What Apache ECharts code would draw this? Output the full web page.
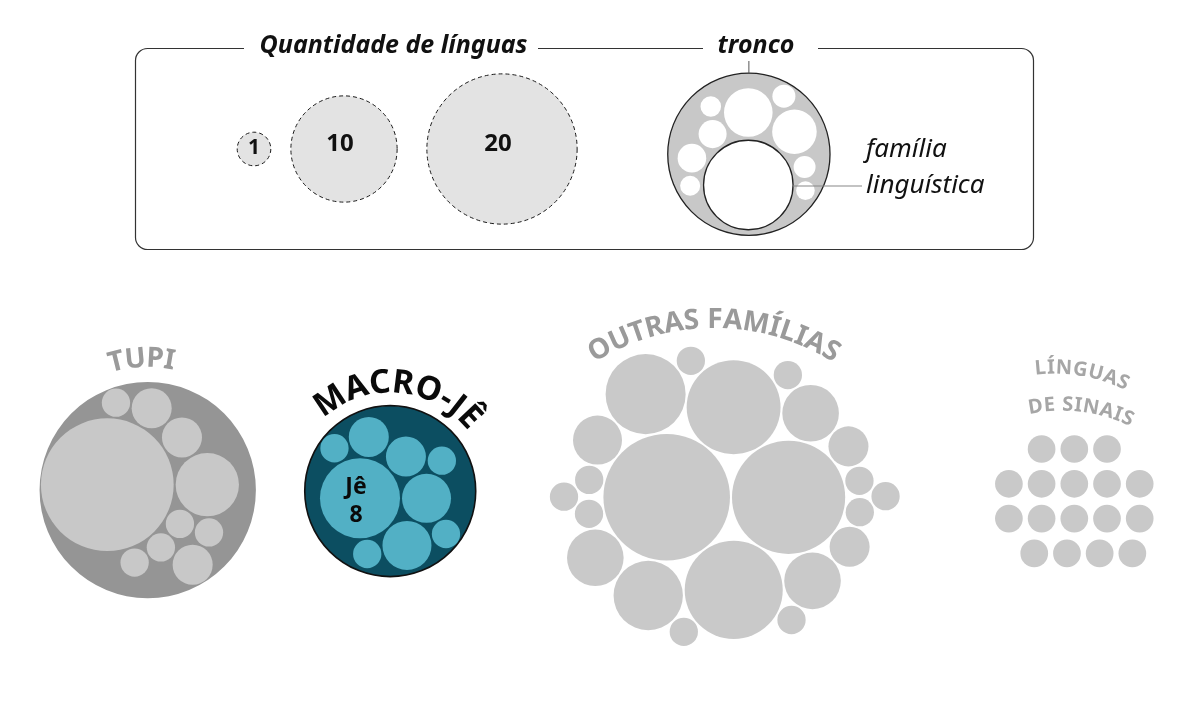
<!DOCTYPE html>
<html><head><meta charset="utf-8">
<script src="https://cdn.jsdelivr.net/npm/echarts@6/dist/echarts.min.js"></script>
<style>html,body{margin:0;padding:0;background:#fff}#c{width:1201px;height:726px}</style>
</head><body><div id="c"></div>
<script>
// ================= DATA =================
const legendValues = [1, 10, 20];
const legendLabels = ['1', '10', '20'];
const legendTitle = 'Quantidade de línguas';
const trunkLegendTitle = 'tronco';
const familyLegendLabel = ['família', 'linguística'];
// illustrative trunk drawn in the legend (relative family sizes)
const exampleTrunk = [10, 2.95, 2.48, 0.98, 1.02, 0.6, 0.53, 0.5, 0.66, 0.43];
// languages per family, in packing order
const tupiFamilies = [22, 5, 1, 2, 1, 2, 1, 1, 1, 2];
const macroJeFamilies = [8, 3, 3, 2, 2, 1, 1, 1, 1];
const macroJeLabel = 'Jê';
const otherFamilies = [20, 16, 12, 11, 8, 6, 4, 4, 4, 3, 2, 2, 1, 1, 1, 1, 1, 1, 1, 1, 1, 1];
const signLanguages = [1, 1, 1, 1, 1, 1, 1, 1, 1, 1, 1, 1, 1, 1, 1, 1, 1];
const groupTitles = ['TUPI', 'MACRO-JÊ', 'OUTRAS FAMÍLIAS', 'LÍNGUAS', 'DE SINAIS'];

// ================= LAYOUT (d3-hierarchy style sibling packing) =================
const W = 1201, H = 726;
const K_MAIN = 14.15, K_LEGEND = 16.8, K_TRUNK = 17.3, PAD = 1;

function place(b, a, c) {
  var dx = b.x - a.x, x, a2, dy = b.y - a.y, y, b2, d2 = dx * dx + dy * dy;
  if (d2) {
    a2 = a.r + c.r; a2 *= a2; b2 = b.r + c.r; b2 *= b2;
    if (a2 > b2) {
      x = (d2 + b2 - a2) / (2 * d2); y = Math.sqrt(Math.max(0, b2 / d2 - x * x));
      c.x = b.x - x * dx - y * dy; c.y = b.y - x * dy + y * dx;
    } else {
      x = (d2 + a2 - b2) / (2 * d2); y = Math.sqrt(Math.max(0, a2 / d2 - x * x));
      c.x = a.x + x * dx - y * dy; c.y = a.y + x * dy + y * dx;
    }
  } else { c.x = a.x + c.r; c.y = a.y; }
}
function intersects(a, b) { var dr = a.r + b.r - 1e-6, dx = b.x - a.x, dy = b.y - a.y; return dr > 0 && dr * dr > dx * dx + dy * dy; }
function score(node) { var a = node._, b = node.next._, ab = a.r + b.r, dx = (a.x * b.r + b.x * a.r) / ab, dy = (a.y * b.r + b.y * a.r) / ab; return dx * dx + dy * dy; }
function PNode(c) { this._ = c; this.next = null; this.previous = null; }
function packSiblings(circles) {
  var n = circles.length, a, b, c, aa, ca, i, j, k, sj, sk;
  if (!n) return;
  a = circles[0]; a.x = 0; a.y = 0; if (n < 2) return;
  b = circles[1]; a.x = -b.r; b.x = a.r; b.y = 0; if (n < 3) return;
  place(b, a, c = circles[2]);
  a = new PNode(a); b = new PNode(b); c = new PNode(c);
  a.next = c.previous = b; b.next = a.previous = c; c.next = b.previous = a;
  pack: for (i = 3; i < n; ++i) {
    place(a._, b._, c = circles[i]); c = new PNode(c);
    j = b.next; k = a.previous; sj = b._.r; sk = a._.r;
    do {
      if (sj <= sk) {
        if (intersects(j._, c._)) { b = j; a.next = b; b.previous = a; --i; continue pack; }
        sj += j._.r; j = j.next;
      } else {
        if (intersects(k._, c._)) { a = k; a.next = b; b.previous = a; --i; continue pack; }
        sk += k._.r; k = k.previous;
      }
    } while (j !== k.next);
    c.previous = a; c.next = b; a.next = b.previous = b = c;
    aa = score(a);
    while ((c = c.next) !== b) { if ((ca = score(c)) < aa) { a = c; aa = ca; } }
    b = a.next;
  }
}
function enclose(circles) {
  var i = 0, n = circles.length, B = [], p, e;
  while (i < n) { p = circles[i]; if (e && enclosesWeak(e, p)) ++i; else { e = encloseBasis(B = extendBasis(B, p)); i = 0; } }
  return e;
}
function extendBasis(B, p) {
  var i, j;
  if (enclosesWeakAll(p, B)) return [p];
  for (i = 0; i < B.length; ++i) if (enclosesNot(p, B[i]) && enclosesWeakAll(encloseBasis2(B[i], p), B)) return [B[i], p];
  for (i = 0; i < B.length - 1; ++i) for (j = i + 1; j < B.length; ++j)
    if (enclosesNot(encloseBasis2(B[i], B[j]), p) && enclosesNot(encloseBasis2(B[i], p), B[j])
      && enclosesNot(encloseBasis2(B[j], p), B[i]) && enclosesWeakAll(encloseBasis3(B[i], B[j], p), B)) return [B[i], B[j], p];
  return [p];
}
function enclosesNot(a, b) { var dr = a.r - b.r, dx = b.x - a.x, dy = b.y - a.y; return dr < 0 || dr * dr < dx * dx + dy * dy; }
function enclosesWeak(a, b) { var dr = a.r - b.r + Math.max(a.r, b.r, 1) * 1e-9, dx = b.x - a.x, dy = b.y - a.y; return dr > 0 && dr * dr > dx * dx + dy * dy; }
function enclosesWeakAll(a, B) { for (var i = 0; i < B.length; ++i) if (!enclosesWeak(a, B[i])) return false; return true; }
function encloseBasis(B) { return B.length === 1 ? {x: B[0].x, y: B[0].y, r: B[0].r} : B.length === 2 ? encloseBasis2(B[0], B[1]) : encloseBasis3(B[0], B[1], B[2]); }
function encloseBasis2(a, b) {
  var x1 = a.x, y1 = a.y, r1 = a.r, x2 = b.x, y2 = b.y, r2 = b.r, x21 = x2 - x1, y21 = y2 - y1, r21 = r2 - r1, l = Math.sqrt(x21 * x21 + y21 * y21);
  return {x: (x1 + x2 + x21 / l * r21) / 2, y: (y1 + y2 + y21 / l * r21) / 2, r: (l + r1 + r2) / 2};
}
function encloseBasis3(a, b, c) {
  var x1 = a.x, y1 = a.y, r1 = a.r, x2 = b.x, y2 = b.y, r2 = b.r, x3 = c.x, y3 = c.y, r3 = c.r,
    a2 = x1 - x2, a3 = x1 - x3, b2 = y1 - y2, b3 = y1 - y3, c2 = r2 - r1, c3 = r3 - r1,
    d1 = x1 * x1 + y1 * y1 - r1 * r1, d2 = d1 - x2 * x2 - y2 * y2 + r2 * r2, d3 = d1 - x3 * x3 - y3 * y3 + r3 * r3,
    ab = a3 * b2 - a2 * b3, xa = (b2 * d3 - b3 * d2) / (ab * 2) - x1, xb = (b3 * c2 - b2 * c3) / ab,
    ya = (a3 * d2 - a2 * d3) / (ab * 2) - y1, yb = (a2 * c3 - a3 * c2) / ab,
    A = xb * xb + yb * yb - 1, Bq = 2 * (r1 + xa * xb + ya * yb), C = xa * xa + ya * ya - r1 * r1,
    r = -(Math.abs(A) > 1e-6 ? (Bq + Math.sqrt(Bq * Bq - 4 * A * C)) / (2 * A) : C / Bq);
  return {x: x1 + xa + xb * r, y: y1 + ya + yb * r, r: r};
}
function packGroup(values, k, pad, anchor, rotDeg) {
  const nodes = values.map(v => ({value: v, r: k * Math.sqrt(v) + pad}));
  packSiblings(nodes);
  const t = rotDeg * Math.PI / 180, c = Math.cos(t), s = Math.sin(t);
  nodes.forEach(n => { const x = n.x * c - n.y * s, y = n.x * s + n.y * c; n.x = x; n.y = y; n.r -= pad; });
  const dx = anchor[0] - nodes[0].x, dy = anchor[1] - nodes[0].y;
  nodes.forEach(n => { n.x += dx; n.y += dy; });
  const e = enclose(nodes.map(n => ({x: n.x, y: n.y, r: n.r})));
  return {nodes, e};
}

const tupi = packGroup(tupiFamilies, K_MAIN, PAD, [107.3, 484.7], 0);
const mj = packGroup(macroJeFamilies, K_MAIN, PAD, [360, 498.3], 0);
const outras = packGroup(otherFamilies, K_MAIN, PAD, [666.7, 497.3], 0);
const example = packGroup(exampleTrunk, K_MAIN, 1.7, [748.3, 185], -90);
const sum = a => a.reduce((s, v) => s + v, 0);
function trunkOuter(g, total) { return {x: g.e.x, y: g.e.y, r: Math.max(K_TRUNK * Math.sqrt(total), g.e.r + 1)}; }

// ================= CIRCLES =================
const circles = [];
function add(x, y, r, st) { circles.push(Object.assign({x, y, r}, st)); }
const ST = {
  legend: {fill: '#e3e3e3', stroke: '#1a1a1a', lw: 1, dash: [4, 3]},
  exOuter: {fill: '#c8c8c8', stroke: '#222', lw: 1.3},
  exInner: {fill: '#ffffff'},
  exMain: {fill: '#ffffff', stroke: '#222', lw: 1.3},
  tupiOuter: {fill: '#959595'},
  tupiInner: {fill: '#c8c8c8'},
  mjOuter: {fill: '#0c4e61', stroke: '#111', lw: 1.6},
  mjInner: {fill: '#52b0c5'},
  other: {fill: '#c9c9c9'},
  sign: {fill: '#c9c9c9'}
};
const legendCx = [254, 344, 502], legendCy = 149;
legendValues.forEach((v, i) => add(legendCx[i], legendCy, K_LEGEND * Math.sqrt(v), ST.legend));
const exOuter = {x: example.e.x, y: example.e.y + 2, r: example.e.r + 3.5};
add(exOuter.x, exOuter.y, exOuter.r, ST.exOuter);
example.nodes.forEach((n, i) => add(n.x, n.y, n.r, i === 0 ? ST.exMain : ST.exInner));
const tupiOuter = trunkOuter(tupi, sum(tupiFamilies));
add(tupiOuter.x, tupiOuter.y, tupiOuter.r, ST.tupiOuter);
tupi.nodes.forEach(n => add(n.x, n.y, n.r, ST.tupiInner));
const mjOuter = trunkOuter(mj, sum(macroJeFamilies));
add(mjOuter.x, mjOuter.y, mjOuter.r, ST.mjOuter);
mj.nodes.forEach(n => add(n.x, n.y, n.r, ST.mjInner));
outras.nodes.forEach(n => add(n.x, n.y, n.r, ST.other));
const signRows = [3, 5, 5, 4], signRowShift = [0, 0, 0, 9];
let si = 0;
signRows.forEach((cnt, row) => {
  for (let i = 0; i < cnt; i++) {
    const v = signLanguages[si++];
    add(1074.3 + (i - (cnt - 1) / 2) * 32.7 + signRowShift[row], 449 + row * 34.8, K_MAIN * Math.sqrt(v) - 0.3, ST.sign);
  }
});

// ================= TEXT =================
const FONT = "'Noto Sans', 'Open Sans', sans-serif";
const mctx = document.createElement('canvas').getContext('2d');
function tw(t, font) { mctx.font = font; return mctx.measureText(t).width; }
const G = [];
function txt(text, x, y, font, fill, align, extra) {
  G.push(Object.assign({type: 'text', x, y, z: 100, silent: true,
    style: {text, font, fill, align: align || 'center', verticalAlign: 'middle', textAlign: align || 'center', textVerticalAlign: 'middle', lineHeight: 28}}, extra || {}));
}
function arcText(str, cx, cy, R, midDeg, font, fill, spacing) {
  const chars = Array.from(str);
  const ws = chars.map(ch => tw(ch, font));
  const total = ws.reduce((a, b) => a + b, 0) + spacing * (chars.length - 1);
  let acc = -total / 2;
  const mid = midDeg * Math.PI / 180;
  chars.forEach((ch, i) => {
    const th = mid + (acc + ws[i] / 2) / R;
    txt(ch, cx + R * Math.sin(th), cy - R * Math.cos(th), font, fill, 'center', {rotation: -th});
    acc += ws[i] + spacing;
  });
}
// legend frame
G.push({type: 'rect', z: 10, silent: true, shape: {x: 135.5, y: 48.5, width: 898, height: 201, r: 12}, style: {fill: null, stroke: '#333', lineWidth: 1.2}});
G.push({type: 'rect', z: 11, silent: true, shape: {x: 244, y: 38, width: 294, height: 20}, style: {fill: '#fff'}});
G.push({type: 'rect', z: 11, silent: true, shape: {x: 703, y: 38, width: 115, height: 20}, style: {fill: '#fff'}});
txt(legendTitle, 393.5, 46, "italic bold 25px " + FONT, '#111');
txt(trunkLegendTitle, 756, 46, "italic bold 25px " + FONT, '#111');
legendLabels.forEach((l, i) => txt(l, legendCx[i] - (i ? 4 : 0), legendCy - (i ? 5 : 1), "bold " + (i ? 24 : 21) + "px " + FONT, '#111'));
G.push({type: 'line', z: 12, silent: true, shape: {x1: exOuter.x, y1: 61, x2: exOuter.x, y2: exOuter.y - exOuter.r}, style: {stroke: '#555', lineWidth: 1}});
const exMain = example.nodes[0];
G.push({type: 'line', z: 12, silent: true, shape: {x1: exMain.x + exMain.r, y1: exMain.y + 1, x2: 862, y2: exMain.y + 1}, style: {stroke: '#888', lineWidth: 1.2}});
txt(familyLegendLabel[0], 866, 150, "italic 26px " + FONT, '#111', 'left');
txt(familyLegendLabel[1], 866, 186, "italic 26px " + FONT, '#111', 'left');
// family label inside Jê
const je = mj.nodes[0];
txt(macroJeLabel + '\n' + macroJeFamilies[0], je.x - 4, je.y + 3, "bold 23px " + FONT, '#0a0a0a');
// group titles on arcs
arcText(groupTitles[0], tupiOuter.x, tupiOuter.y, tupiOuter.r + 23, -2.7, "bold 28px " + FONT, '#9a9a9a', 0.5);
arcText(groupTitles[1], mjOuter.x, mjOuter.y, 108, 5, "bold 33px " + FONT, '#0a0a0a', 2);
arcText(groupTitles[2], 714, 552, 232, 0, "bold 28px " + FONT, '#9a9a9a', 0.5);
arcText(groupTitles[3], 1055, 533, 165, 9.6, "bold 20px " + FONT, '#a6a6a6', 1);
arcText(groupTitles[4], 1062, 570, 165, 6.8, "bold 20px " + FONT, '#a6a6a6', 1);

// ================= CHART =================
const chart = echarts.init(document.getElementById('c'), null, {renderer: 'canvas'});
chart.setOption({
  animation: false, backgroundColor: '#fff',
  grid: {left: 0, right: 0, top: 0, bottom: 0},
  xAxis: {type: 'value', min: 0, max: W, show: false},
  yAxis: {type: 'value', min: 0, max: H, inverse: true, show: false},
  series: [{
    type: 'custom', coordinateSystem: 'cartesian2d', clip: false, silent: true,
    data: circles.map(c => [c.x, c.y, c.r]),
    renderItem: function (params, api) {
      const c = circles[params.dataIndex];
      const p = api.coord([api.value(0), api.value(1)]);
      const s = api.size([api.value(2), api.value(2)]);
      return {type: 'circle', shape: {cx: p[0], cy: p[1], r: s[0]},
        style: {fill: c.fill, stroke: c.stroke || null, lineWidth: c.lw || 0, lineDash: c.dash || null}};
    }
  }],
  graphic: {elements: G}
});
</script></body></html>
